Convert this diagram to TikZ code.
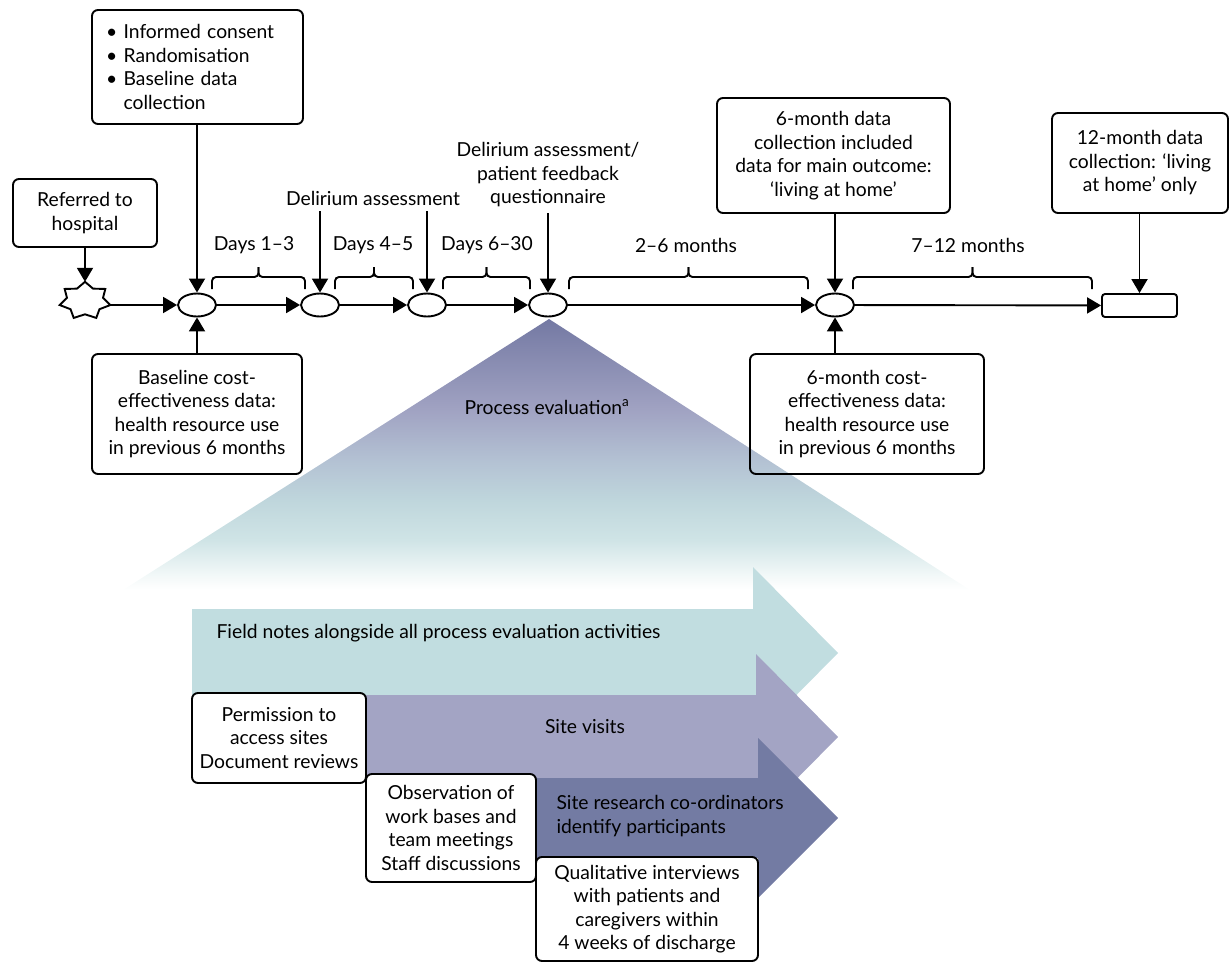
\documentclass[tikz,border=0pt]{standalone}
\usepackage{fontspec}
\setmainfont{Lato}
\usetikzlibrary{arrows.meta,calc,shapes.geometric}
\definecolor{fieldcol}{HTML}{C1DDE0}
\definecolor{sitecol}{HTML}{A3A4C4}
\definecolor{darkcol}{HTML}{737BA3}
\definecolor{triT}{HTML}{7479A3}
\definecolor{triM}{HTML}{A0A2C2}
\definecolor{triL}{HTML}{B3C1D3}
\definecolor{triK}{HTML}{BFD6DC}
\definecolor{triJ}{HTML}{CFE4E6}
\definecolor{triI}{HTML}{F2F8F8}
\pgfdeclareverticalshading{trishade}{100bp}{color(0bp)=(white); color(25bp)=(white); color(27.8bp)=(triI); color(34.2bp)=(triJ); color(41.6bp)=(triK); color(49bp)=(triL); color(58.4bp)=(triM); color(75bp)=(triT); color(100bp)=(triT)}
\begin{document}
\begin{tikzpicture}[x=1pt,y=-1pt,
  every node/.style={font=\fontsize{19.3}{23.5}\selectfont},
  box/.style={draw, line width=1.9pt, rounded corners=6pt, align=center, inner sep=0pt},
  wbox/.style={box, fill=white},
  ell/.style={draw, ellipse, line width=1.9pt, minimum width=38pt, minimum height=23pt, inner sep=0pt, fill=white},
  conn/.style={line width=1.9pt, -{Triangle[length=14pt,width=16pt]}},
  brc/.style={line width=1.9pt, rounded corners=4pt},
  lbl/.style={align=center, inner xsep=0pt, inner ysep=6pt},
]
\useasboundingbox (0,0) rectangle (1230,963);

% process evaluation triangle
\shade[shading=trishade] (549,319) -- (970,590) -- (123,590) -- cycle;
\node at (547,407) {Process evaluation\textsuperscript{a}};

% activity arrows
\fill[fieldcol] (192,609) -- (753,609) -- (753,567) -- (838,653) -- (753,739) -- (753,695) -- (192,695) -- cycle;
\fill[sitecol] (192,695) -- (756,695) -- (756,654) -- (838,737) -- (756,820) -- (756,778) -- (192,778) -- cycle;
\fill[darkcol] (370,778) -- (758,778) -- (758,738) -- (838,818) -- (758,898) -- (758,858) -- (370,858) -- cycle;
\node[anchor=west] at (213,633) {Field notes alongside all process evaluation activities};
\node at (585,727) {Site visits};
\node[anchor=west, align=left] at (553,816) {Site research co-ordinators\\identify participants};

\node[wbox, minimum width=174pt, minimum height=90pt] (perm) at (279,738) {Permission to\\access sites\\Document reviews};
\node[wbox, minimum width=170pt, minimum height=108pt] (obs) at (451,828) {Observation of\\work bases and\\team meetings\\Staff discussions};
\node[wbox, minimum width=222pt, minimum height=104pt] (qual) at (647,909) {Qualitative interviews\\with patients and\\caregivers within\\4 weeks of discharge};

% top boxes
\node[box, minimum width=211pt, minimum height=114pt, text width=183pt, align=left] (tb) at (197.5,67)
  {\textbullet\ Informed consent\\\textbullet\ Randomisation\\\textbullet\ Baseline data\\\phantom{\textbullet\ }collection};
\node[box, minimum width=144pt, minimum height=68pt] (refer) at (85,213) {Referred to\\hospital};
\node[box, minimum width=233pt, minimum height=115pt] (six) at (833.5,155.5) {6-month data\\collection included\\data for main outcome:\\‘living at home’};
\node[box, minimum width=176pt, minimum height=100pt] (twelve) at (1140,163) {12-month data\\collection: ‘living\\at home’ only};

% bottom boxes
\node[box, minimum width=210pt, minimum height=120pt] (base) at (197,414) {Baseline cost-\\effectiveness data:\\health resource use\\in previous 6 months};
\node[box, minimum width=234pt, minimum height=120pt] (cost6) at (867,414) {6-month cost-\\effectiveness data:\\health resource use\\in previous 6 months};

% labels
\node[lbl] (dl1) at (373,198) {Delirium assessment};
\node[lbl] (dl2) at (548,175) {Delirium assessment/\\patient feedback\\questionnaire};
\node[lbl] (d13) at (254,245) {Days 1–3};
\node[lbl] (d45) at (373,245) {Days 4–5};
\node[lbl] (d630) at (487,245) {Days 6–30};
\node[lbl] (m26) at (686,245) {2–6 months};
\node[lbl] (m712) at (968,245) {7–12 months};

% braces
\foreach \a/\b in {212/305, 335/413, 443/530, 569/808, 853/1092} {
  \pgfmathsetmacro\m{(\a+\b)/2}
  \draw[brc] (\a,289) -- (\a,277) -- (\m,277) -- (\m,267);
  \draw[brc] (\b,289) -- (\b,277) -- (\m,277) -- (\m,267);
}

% star
\draw[line width=1.9pt, fill=white] plot[samples at={0,...,13}]
  ({85+(mod(\x,2)==0 ? 26 : 18.5)*cos(90+\x*360/14)}, {300.8-(mod(\x,2)==0 ? 19 : 13.5)*sin(90+\x*360/14)}) -- cycle;
\coordinate (stR) at (110.3,305);
\coordinate (stT) at (85,281.8);

% timeline nodes
\node[ell] (e1) at (197,305) {};
\node[ell] (e2) at (320,305) {};
\node[ell] (e3) at (427,305) {};
\node[ell] (e4) at (548,305) {};
\node[ell] (e5) at (835,305) {};
\node[draw, line width=1.9pt, rounded corners=3pt, minimum width=75pt, minimum height=23pt, inner sep=0pt] (endr) at (1139.5,305.5) {};

% connectors
\draw[conn] (stR) -- (e1);
\draw[conn] (e1) -- (e2);
\draw[conn] (e2) -- (e3);
\draw[conn] (e3) -- (e4);
\draw[conn] (e4) -- (e5);
\draw[conn] (e5) -- (endr);
\draw[conn] (refer.south -| stT) -- (stT);
\draw[conn] (tb.south -| e1) -- (e1);
\draw[conn] (base.north -| e1) -- (e1);
\draw[conn] (dl1.south -| e2) -- (e2);
\draw[conn] (dl1.south -| e3) -- (e3);
\draw[conn] (dl2.south -| e4) -- (e4);
\draw[conn] (six.south -| e5) -- (e5);
\draw[conn] (cost6.north -| e5) -- (e5);
\draw[conn] (twelve.south -| endr) -- (endr);
\end{tikzpicture}
\end{document}
